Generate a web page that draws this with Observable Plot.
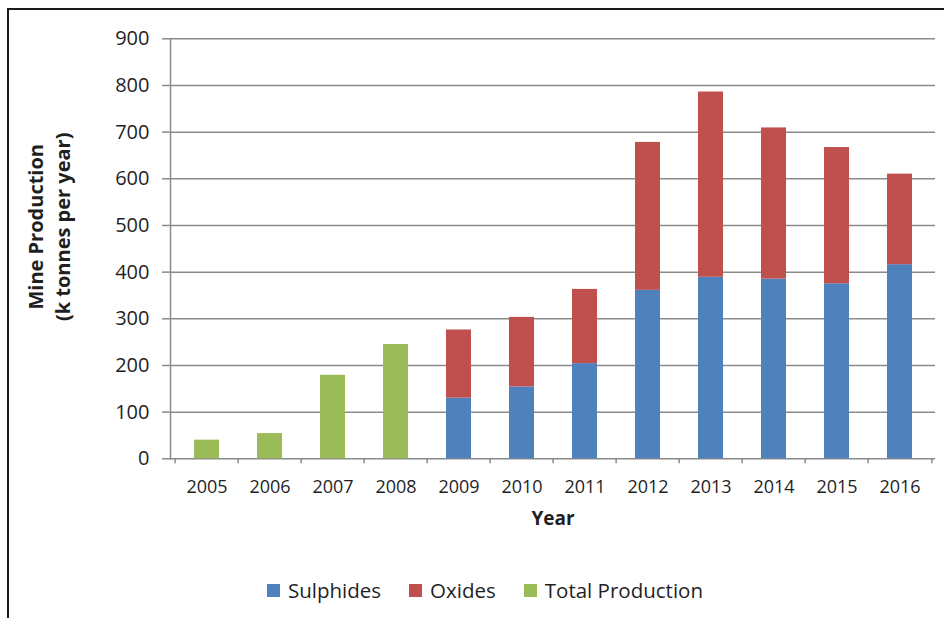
<!DOCTYPE html>
<html>
<head>
<meta charset="utf-8">
<script src="https://cdn.jsdelivr.net/npm/d3@7"></script>
<script src="https://cdn.jsdelivr.net/npm/@observablehq/plot@0.6"></script>
<style>
  body { margin: 0; background: #fff; font-family: "Open Sans", sans-serif; color: #1f1f1f; }
  #wrap { position: relative; width: 944px; height: 618px; overflow: hidden; background: #fff; }
  #border { position: absolute; left: 7px; top: 8px; right: -10px; bottom: -10px;
            border-left: 2px solid #1a1a1a; border-top: 2px solid #1a1a1a; }
  #chart { position: absolute; left: 0; top: 0; }
  #legend { position: absolute; left: 267px; top: 576px; height: 28px; display: flex; align-items: center;
            font-size: 20.5px; color: #1f1f1f; }
  .item { display: flex; align-items: center; margin-right: 28px; }
  .swatch { width: 13px; height: 13px; margin-right: 8px; }
</style>
</head>
<body>
<div id="wrap">
  <div id="border"></div>
  <div id="chart"></div>
  <div id="legend"></div>
</div>
<script>
// Mine production by year (k tonnes per year)
const years = ["2005", "2006", "2007", "2008", "2009", "2010", "2011", "2012", "2013", "2014", "2015", "2016"];
const sulphides = [null, null, null, null, 130, 154, 204, 361, 389, 385, 375, 416];
const oxides = [null, null, null, null, 146, 149, 159, 317, 397, 324, 292, 194];
const totalProduction = [40, 54, 179, 245, null, null, null, null, null, null, null, null];

const seriesNames = ["Sulphides", "Oxides", "Total Production"];
const seriesColors = ["#4f81bd", "#c0504d", "#9bbb59"];
const yTicks = [0, 100, 200, 300, 400, 500, 600, 700, 800, 900];

// Long table for the stacked bars
const seriesValues = [sulphides, oxides, totalProduction];
const rows = [];
seriesNames.forEach((name, s) => {
  years.forEach((year, i) => {
    const v = seriesValues[s][i];
    if (v != null) rows.push({year, series: name, value: v});
  });
});

const width = 944, height = 570;
const marginLeft = 170, marginRight = 9, marginTop = 38.3, marginBottom = 111.7;
const step = (width - marginLeft - marginRight) / years.length;
const gray = "#8a8a8a";

const chart = Plot.plot({
  width, height, marginLeft, marginRight, marginTop, marginBottom,
  style: {background: "transparent", fontFamily: "'Open Sans', sans-serif", color: "#1f1f1f", overflow: "visible"},
  x: {domain: years, paddingInner: 0.61, paddingOuter: 0.305},
  y: {domain: [0, 900]},
  color: {domain: seriesNames, range: seriesColors},
  marks: [
    Plot.gridY(yTicks, {stroke: gray, strokeOpacity: 1, strokeWidth: 1.5}),
    Plot.axisY({ticks: yTicks, tickSize: 8, tickPadding: 13, stroke: gray, strokeWidth: 1.5, fontSize: 20, label: null}),
    Plot.barY(rows, {x: "year", y: "value", fill: "series", order: seriesNames}),
    Plot.frame({anchor: "left", stroke: gray, strokeWidth: 1.5}),
    // tick marks sit on the category boundaries
    Plot.axisX({ticks: years, tickSize: 5, tickFormat: () => "", dx: -step / 2, stroke: gray, strokeWidth: 1.5, label: null}),
    Plot.axisX({ticks: [years[years.length - 1]], tickSize: 5, tickFormat: () => "", dx: step / 2, stroke: gray, strokeWidth: 1.5, label: null}),
    Plot.axisX({ticks: years, tickSize: 0, tickPadding: 21, fontSize: 18, label: null}),
    Plot.text(["Year"], {text: d => d, frameAnchor: "bottom", dy: 60, fontSize: 19, fontWeight: "bold", lineAnchor: "middle"}),
    Plot.text(["Mine Production\n(k tonnes per year)"], {
      text: d => d, frameAnchor: "left", textAnchor: "middle", rotate: -90, dx: -123, dy: -22,
      fontSize: 20, fontWeight: "bold", lineHeight: 1.35, lineAnchor: "middle"
    })
  ]
});
document.getElementById("chart").append(chart);

// Legend below the chart
const legend = document.getElementById("legend");
seriesNames.forEach((name, i) => {
  const item = document.createElement("div");
  item.className = "item";
  const sw = document.createElement("span");
  sw.className = "swatch";
  sw.style.background = seriesColors[i];
  const label = document.createElement("span");
  label.textContent = name;
  item.append(sw, label);
  legend.append(item);
});
</script>
</body>
</html>
